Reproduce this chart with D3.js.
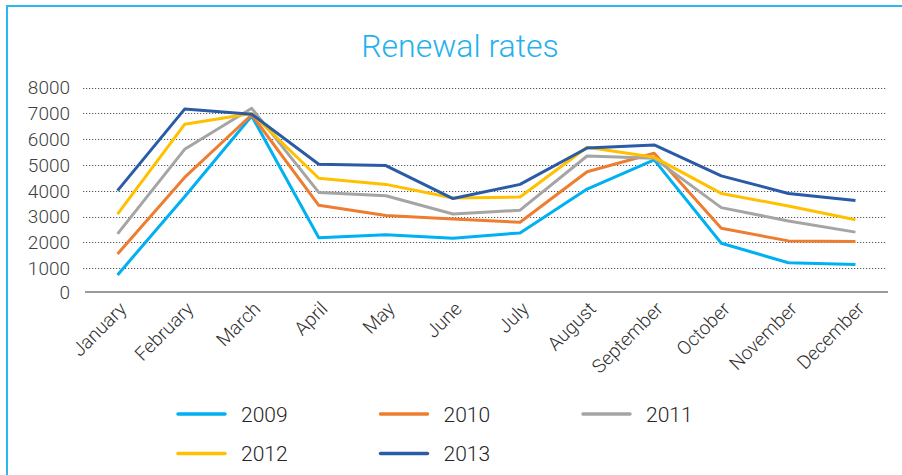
<!DOCTYPE html>
<html>
<head>
<meta charset="utf-8">
<script src="https://cdn.jsdelivr.net/npm/d3@7"></script>
<style>
  body { margin: 0; background: #fff; }
  .grid line { stroke: #555; stroke-dasharray: 1.2,1.8; }
</style>
</head>
<body>
<script>
// chart data
var months = ["January","February","March","April","May","June","July","August","September","October","November","December"];
var years = ["2009","2010","2011","2012","2013"];
var colors = ["#00b0f0","#ed7d31","#a5a5a5","#ffc000","#2a5ba6"];
var yTicks = [0,1000,2000,3000,4000,5000,6000,7000,8000];
var v2009 = [740,3770,6900,2180,2300,2160,2370,4070,5200,1970,1210,1140];
var v2010 = [1550,4520,6950,3440,3040,2910,2780,4740,5460,2550,2060,2040];
var v2011 = [2330,5610,7200,3940,3810,3100,3250,5350,5260,3350,2830,2400];
var v2012 = [3100,6580,7000,4490,4250,3720,3760,5690,5300,3900,3410,2880];
var v2013 = [4010,7170,6970,5030,4980,3700,4250,5660,5780,4580,3900,3630];
var series = [v2009, v2010, v2011, v2012, v2013];

(function(){
    var width = 902, height = 475;

    var svg = d3.select("body").append("svg")
        .attr("width", width)
        .attr("height", height)
        .style("font-family", "Roboto, sans-serif");

    //frame round the chart (runs off the right and bottom)
    svg.append("rect")
        .attr("x", 7).attr("y", 6)
        .attr("width", 920).attr("height", 500)
        .attr("fill", "none")
        .attr("stroke", "#29b8f2")
        .attr("stroke-width", 2);

    //title
    svg.append("text")
        .attr("x", 460).attr("y", 57)
        .attr("text-anchor", "middle")
        .attr("fill", "#1fb2ee")
        .style("font-size", "32px")
        .style("font-weight", 300)
        .text("Renewal rates");

    var x = d3.scaleBand().domain(months).range([84, 889]);
    var y = d3.scaleLinear().domain([0, 8000]).range([294, 87.7]);

    //dotted gridlines
    svg.append("g").attr("class", "grid")
        .selectAll("line")
        .data(yTicks.filter(function(d){ return d > 0; }))
        .enter().append("line")
        .attr("x1", 83).attr("x2", 886)
        .attr("y1", function(d){ return Math.round(y(d)) + 0.5; })
        .attr("y2", function(d){ return Math.round(y(d)) + 0.5; });

    //baseline
    svg.append("line")
        .attr("x1", 85).attr("x2", 888)
        .attr("y1", y(0) - 2).attr("y2", y(0) - 2)
        .attr("stroke", "#7a7a7a")
        .attr("stroke-width", 1.5);

    //y labels
    svg.append("g").selectAll("text")
        .data(yTicks)
        .enter().append("text")
        .attr("x", 70)
        .attr("y", function(d){ return y(d) - (d === 0 ? 2 : 0); })
        .attr("dy", "0.35em")
        .attr("text-anchor", "end")
        .attr("fill", "#404040")
        .style("font-size", "19px")
        .style("font-weight", 300)
        .text(function(d){ return d; });

    //x labels, turned 45 degrees
    svg.append("g").selectAll("text")
        .data(months)
        .enter().append("text")
        .attr("transform", function(d){
            return "translate(" + (x(d) + x.bandwidth() / 2 + 10) + ",310) rotate(-45)";
        })
        .attr("text-anchor", "end")
        .attr("fill", "#303030")
        .style("font-size", "19px")
        .style("font-weight", 300)
        .text(function(d){ return d; });

    //the five lines
    var line = d3.line()
        .x(function(d, i){ return x(months[i]) + x.bandwidth() / 2; })
        .y(function(d){ return y(d); });

    svg.append("g").selectAll("path")
        .data(series)
        .enter().append("path")
        .attr("d", line)
        .attr("fill", "none")
        .attr("stroke", function(d, i){ return colors[i]; })
        .attr("stroke-width", 3)
        .attr("stroke-linejoin", "round");

    //legend, three per row
    var legend = svg.append("g").selectAll("g")
        .data(years)
        .enter().append("g")
        .attr("transform", function(d, i){
            return "translate(" + (178 + (i % 3) * 202.5) + "," + (414 + Math.floor(i / 3) * 39.5) + ")";
        });

    legend.append("line")
        .attr("x1", 0).attr("x2", 47)
        .attr("stroke", function(d, i){ return colors[i]; })
        .attr("stroke-width", 3.5)
        .attr("stroke-linecap", "round");

    legend.append("text")
        .attr("x", 63).attr("y", 7.5)
        .attr("fill", "#262626")
        .style("font-size", "21px")
        .style("font-weight", 300)
        .text(function(d){ return d; });
})();
</script>
</body>
</html>
